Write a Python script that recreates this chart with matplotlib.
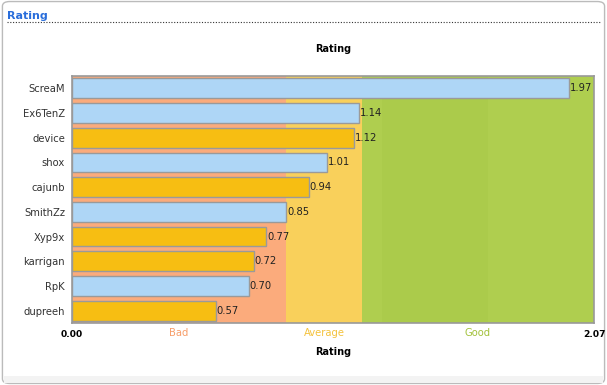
import matplotlib.pyplot as plt
from matplotlib.patches import FancyBboxPatch, Rectangle
from matplotlib.lines import Line2D

# datos
players = ['ScreaM', 'Ex6TenZ', 'device', 'shox', 'cajunb',
           'SmithZz', 'Xyp9x', 'karrigan', 'RpK', 'dupreeh']
rating = [1.97, 1.14, 1.12, 1.01, 0.94, 0.85, 0.77, 0.72, 0.70, 0.57]
team = ['fr', 'fr', 'dk', 'fr', 'dk', 'fr', 'dk', 'dk', 'fr', 'dk']
bands = [('Bad', 0.0, 0.85), ('Average', 0.85, 1.15), ('Good', 1.15, 2.07)]
x_max = 2.07

team_color = {'fr': '#AED6F6', 'dk': '#F7BE12'}
band_color = {'Bad': '#FBAB7C', 'Average': '#F9D05B', 'Good': '#AFCE4F'}
label_color = {'Bad': '#F79E6A', 'Average': '#F4C23C', 'Good': '#A2C13A'}

fig = plt.figure(figsize=(6.07, 3.85), dpi=100)

# marco del panel
frame = FancyBboxPatch((0.004, 0.004), 0.992, 0.992, boxstyle='round,pad=0,rounding_size=0.012',
                       transform=fig.transFigure, facecolor='white', edgecolor='#BBBBBB',
                       linewidth=1, zorder=-10)
fig.patches.append(frame)
fig.patches.append(Rectangle((0.006, 0.006), 0.988, 0.018, transform=fig.transFigure,
                             facecolor='#F3F3F3', edgecolor='none', zorder=-9))
fig.text(0.012, 0.958, 'Rating', color='#2A6EDB', fontsize=8, fontweight='bold', va='center')
fig.lines.append(Line2D([0.012, 0.99], [0.943, 0.943], transform=fig.transFigure,
                        color='#333333', linestyle=(0, (1, 1.5)), linewidth=0.8))

ax = fig.add_axes([72 / 607, 62 / 385, 522 / 607, 247 / 385])
ax.set_zorder(5)

for name, a, b in bands:
    ax.axvspan(a, b, color=band_color[name], zorder=0, lw=0)
# sombreado suave dentro de la banda verde
ax.axvspan(1.23, 1.65, color='#ABCB4B', zorder=0, lw=0)

y = list(range(len(players)))
ax.barh(y, rating, height=0.8, color=[team_color[t] for t in team],
        edgecolor='#9A9A9A', linewidth=1, zorder=2)
for yi, v in zip(y, rating):
    ax.text(v + 0.003, yi, f'{v:.2f}', va='center', ha='left', fontsize=7.2, color='#222222', zorder=3)

ax.set_xlim(0, x_max)
ax.set_ylim(len(players) - 0.5, -0.5)
ax.set_yticks(y)
ax.set_yticklabels(players, fontsize=7.2, color='#333333')
ax.set_xticks([0, x_max])
ax.set_xticklabels(['0.00', '2.07'], fontsize=6.6, fontweight='bold')
ax.tick_params(length=0, pad=5)
for name, a, b in bands:
    ax.text((a + b) / 2, -0.02, name, transform=ax.get_xaxis_transform(), ha='center', va='top',
            fontsize=7.2, color=label_color[name])
ax.set_xlabel('Rating', fontsize=7, fontweight='bold', labelpad=6)
ax.set_title('Rating', fontsize=7, fontweight='bold', pad=17)
for s in ax.spines.values():
    s.set_color('#999999')
    s.set_linewidth(1.2)

plt.savefig('out.png', dpi=100)
